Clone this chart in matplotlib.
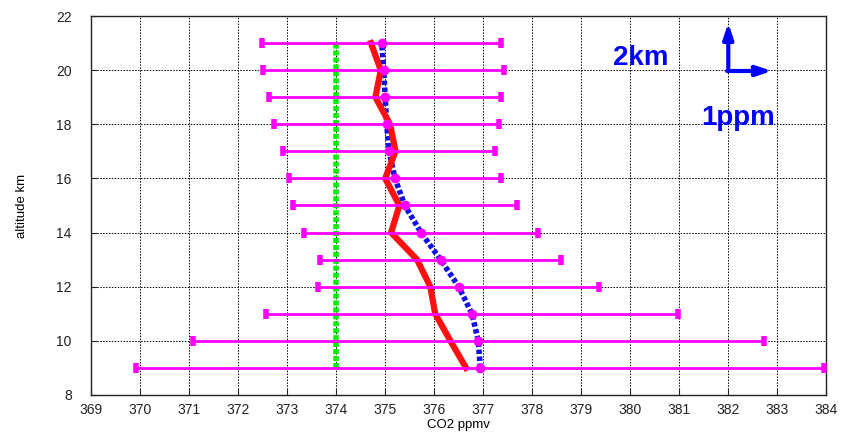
import matplotlib.pyplot as plt

plt.rcParams['font.family'] = ['Liberation Sans', 'DejaVu Sans']

altitude = [9, 10, 11, 12, 13, 14, 15, 16, 17, 18, 19, 20, 21]
prior = [374.0] * len(altitude)
retrieved = [376.65, 376.33, 376.02, 375.92, 375.65, 375.12, 375.29,
             375.0, 375.21, 375.1, 374.8, 374.91, 374.71]
true_co2 = [376.94, 376.9, 376.77, 376.5, 376.13, 375.73, 375.4,
            375.2, 375.08, 375.03, 375.0, 374.97, 374.93]
err = [7.02, 5.83, 4.2, 2.87, 2.46, 2.38, 2.28, 2.17, 2.16, 2.3, 2.37, 2.46, 2.44]

fig = plt.figure(figsize=(8.44, 4.34), dpi=100)
ax = fig.add_axes([0.108, 0.09, 0.871, 0.873])

ax.plot(prior, altitude, color='#00ee00', lw=4, linestyle=(0, (0.9, 0.35)), zorder=3)
ax.plot(true_co2, altitude, color='#1010e0', lw=4, linestyle=(0, (0.8, 0.45)), zorder=3)
ax.plot(retrieved, altitude, color='#ff1010', lw=4.5, zorder=4)
ax.errorbar(true_co2, altitude, xerr=err, fmt='o', color='#ff00ff', ms=6,
            mfc='#ff00ff', mec='#ff00ff', elinewidth=2, capsize=3.5, capthick=4, zorder=5)

ax.set_xlim(369, 384)
ax.set_ylim(8, 22)
ax.set_xticks(range(369, 385))
ax.set_yticks(range(8, 23, 2))
ax.grid(True, color='black', linestyle=(0, (1.5, 1.5)), lw=0.7)
ax.tick_params(direction='in', length=4, labelsize=10, colors='#222222')
ax.tick_params(axis='x', pad=6)
ax.tick_params(axis='y', pad=14)
for s in ax.spines.values():
    s.set_linewidth(1)
    s.set_color('#222222')

ax.set_xlabel('CO2 ppmv', fontsize=9.5, labelpad=1)
ax.set_ylabel('altitude km', fontsize=9.5, labelpad=20)

ax.annotate('', xy=(382, 21.85), xytext=(382, 19.95),
            arrowprops=dict(arrowstyle='-|>,head_width=0.3,head_length=0.9', color='#0000ff', lw=3))
ax.annotate('', xy=(382.95, 19.97), xytext=(381.92, 19.97),
            arrowprops=dict(arrowstyle='-|>,head_width=0.3,head_length=0.9', color='#0000ff', lw=3))
ax.text(379.65, 20.45, '2km', color='#0000ff', fontsize=20, fontweight='bold',
        ha='left', va='center')
ax.text(381.45, 18.25, '1ppm', color='#0000ff', fontsize=20, fontweight='bold',
        ha='left', va='center')

fig.savefig('out.png', dpi=100)
